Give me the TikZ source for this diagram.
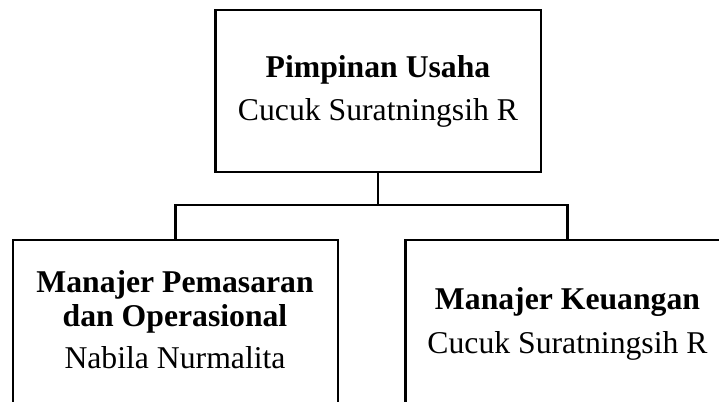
\documentclass[tikz,border=0pt]{standalone}
\usepackage{fontspec}
\setmainfont{Liberation Serif}
\begin{document}
\begin{tikzpicture}[x=1pt,y=-1pt,
  box/.style={draw=black,line width=2.5pt,rectangle,inner sep=0pt,outer sep=0pt,fill=none},
  lbl/.style={anchor=base,inner sep=0pt,font=\fontsize{31.7}{34}\selectfont},
  conn/.style={draw=black,line width=2.5pt}]
\useasboundingbox (0,0) rectangle (719,401);
\clip (0,0) rectangle (719,401);
\fill[white] (0,0) rectangle (719,401);
% boxes
\node[box,minimum width=325.5pt,minimum height=162pt] (top) at (378,91) {};
\node[box,minimum width=325pt,minimum height=168pt] (left) at (175.5,324) {};
\node[box,minimum width=323.6pt,minimum height=168pt] (right) at (567.5,324) {};
% texts
\node[lbl] (t1) at (378,77.3) {\bfseries Pimpinan Usaha};
\node[lbl] (t2) at (378,120.7) {Cucuk Suratningsih R};
\node[lbl] (l1) at (175,292.3) {\bfseries Manajer Pemasaran};
\node[lbl] (l2) at (175,326.5) {\bfseries dan Operasional};
\node[lbl] (l3) at (175,368.5) {Nabila Nurmalita};
\node[lbl] (r1) at (567.5,309.3) {\bfseries Manajer Keuangan};
\node[lbl] (r2) at (567.5,353) {Cucuk Suratningsih R};
% connectors
\coordinate (bus) at (378,205);
\draw[conn] (top.south) -- (bus);
\draw[conn] (left.north) |- (bus) -| (right.north);
\end{tikzpicture}
\end{document}
